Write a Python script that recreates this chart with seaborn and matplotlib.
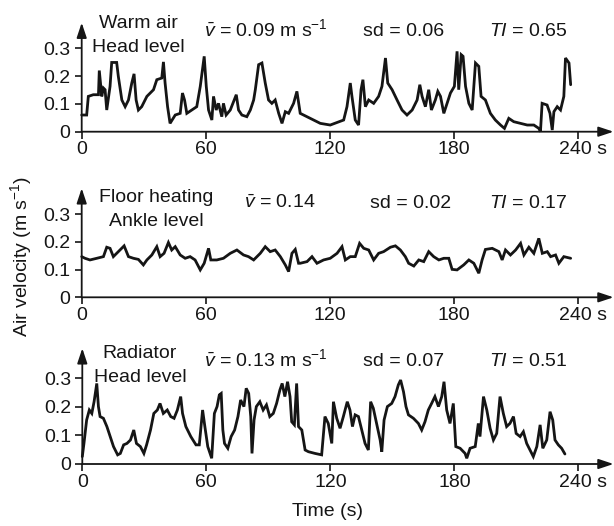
import numpy as np
import pandas as pd
import matplotlib
matplotlib.use("Agg")
import matplotlib.pyplot as plt
import matplotlib.transforms as mtransforms
import seaborn as sns

# ---------------- data ----------------
warm_t = [0, 2.4, 3.2, 5.6, 8.1, 8.5, 9.7, 10.5, 11.3, 12.1, 13.7, 14.5, 16.9, 17.7, 19.4, 21.0,
          22.6, 24.2, 25.3, 26.3, 27.4, 29.0, 31.5, 34.7, 36.3, 38.7, 39.5, 40.3, 41.5, 42.7, 45.2,
          47.6, 48.7, 49.7, 50.8, 53.2, 55.6, 57.3, 59.2, 60.2, 61.3, 62.9, 63.7, 65.0, 66.1, 67.7,
          68.5, 69.8, 71.8, 73.4, 74.7, 75.8, 77.4, 79.8, 81.5, 83.1, 83.9, 85.5, 87.1, 88.7, 90.3,
          91.9, 93.5, 95.2, 96.8, 98.4, 100.0, 102.4, 104.0,
          105.6, 110.5, 115.3, 120.1, 123.4, 126.6, 128.2, 129.8, 130.6, 132.2, 133.8, 135.0, 135.9,
          137.1, 138.7, 141.1, 143.5, 145.1, 146.8, 147.9, 150.0, 152.4, 154.8, 157.2, 159.7, 162.1,
          163.4, 164.5, 166.1, 167.7, 169.0, 170.9, 172.1, 173.4, 175.0, 176.6, 178.2, 180.1, 181.4,
          182.2, 183.4, 184.3, 185.5, 187.1, 188.7, 190.3, 191.9, 193.0, 195.1, 197.5, 199.9, 202.4,
          204.3, 206.4, 208.8, 212.0, 215.3, 218.5, 220.9, 221.7, 222.5, 224.9, 226.3, 227.4, 228.2,
          229.8, 231.4, 233.0, 233.8, 235.5, 236.3]
warm_v = [0.060, 0.060, 0.127, 0.133, 0.133, 0.220, 0.127, 0.157, 0.151, 0.078, 0.163, 0.249, 0.249,
          0.199, 0.114, 0.090, 0.114, 0.175, 0.208, 0.114, 0.078, 0.090, 0.127, 0.151, 0.187, 0.193,
          0.251, 0.175, 0.090, 0.030, 0.060, 0.066, 0.139, 0.114, 0.066, 0.078, 0.090, 0.163, 0.271,
          0.163, 0.078, 0.042, 0.127, 0.078, 0.102, 0.054, 0.102, 0.060, 0.078, 0.108, 0.133, 0.078,
          0.060, 0.054, 0.078, 0.114, 0.151, 0.241, 0.247, 0.175, 0.114, 0.102, 0.114, 0.066, 0.030,
          0.072, 0.066, 0.102, 0.145,
          0.066, 0.048, 0.030, 0.024, 0.033, 0.042, 0.090, 0.175, 0.127, 0.042, 0.024, 0.151, 0.187,
          0.090, 0.114, 0.102, 0.127, 0.163, 0.265, 0.175, 0.151, 0.114, 0.078, 0.060, 0.078, 0.114,
          0.169, 0.127, 0.090, 0.151, 0.078, 0.114, 0.145, 0.127, 0.066, 0.102, 0.139, 0.163, 0.289,
          0.151, 0.277, 0.271, 0.163, 0.102, 0.078, 0.247, 0.235, 0.127, 0.114, 0.066, 0.042, 0.024,
          0.012, 0.048, 0.036, 0.030, 0.024, 0.024, 0.012, 0.000, 0.102, 0.096, 0.066, 0.006, 0.072,
          0.090, 0.078, 0.127, 0.265, 0.247, 0.169]

floor_t = [0, 1.6, 4.0, 7.3, 10.5, 12.1, 13.7, 15.3, 17.7, 20.5, 22.6, 25.0, 27.4, 29.8, 31.5, 33.9,
           36.3, 37.9, 39.8, 41.9, 43.5, 45.2, 47.6, 50.0, 52.4, 54.8, 57.3, 59.2, 61.3, 62.4, 65.3,
           68.5, 71.8, 75.0, 78.2, 80.6, 83.1, 86.3, 88.7, 91.1, 93.5, 96.0, 98.4, 100.0, 101.6, 103.2,
           104.8,
           105.6, 108.9, 111.3, 113.7, 116.9, 120.1, 123.4, 125.8, 127.4, 129.8, 132.2, 134.3, 136.3,
           138.7, 141.1, 143.5, 145.9, 149.2, 151.6, 154.0, 156.4, 158.0, 160.5, 162.9, 165.3, 167.7,
           170.1, 172.6, 175.0, 177.4, 179.0, 181.4, 184.6, 187.1, 189.5, 191.9, 193.5, 195.1, 198.4,
           201.6, 203.2, 204.8, 207.2, 209.7, 212.1, 213.7, 216.1, 218.5, 220.9, 222.6, 225.0, 226.6,
           229.0, 230.6, 233.0, 236.3]
floor_v = [0.147, 0.141, 0.135, 0.141, 0.147, 0.181, 0.177, 0.147, 0.165, 0.186, 0.147, 0.141, 0.137,
           0.117, 0.135, 0.153, 0.183, 0.147, 0.159, 0.198, 0.171, 0.183, 0.153, 0.141, 0.147, 0.135,
           0.099, 0.123, 0.177, 0.135, 0.135, 0.141, 0.159, 0.171, 0.153, 0.147, 0.135, 0.159, 0.183,
           0.165, 0.171, 0.147, 0.117, 0.093, 0.159, 0.173, 0.123,
           0.123, 0.129, 0.147, 0.123, 0.135, 0.141, 0.159, 0.183, 0.135, 0.147, 0.147, 0.195, 0.177,
           0.171, 0.135, 0.159, 0.165, 0.181, 0.186, 0.171, 0.147, 0.123, 0.113, 0.135, 0.129, 0.165,
           0.147, 0.135, 0.141, 0.141, 0.101, 0.099, 0.117, 0.135, 0.123, 0.087, 0.135, 0.173, 0.177,
           0.165, 0.135, 0.171, 0.153, 0.171, 0.195, 0.153, 0.181, 0.159, 0.213, 0.159, 0.165, 0.147,
           0.153, 0.123, 0.147, 0.141]

rad_t = [0, 0.8, 2.1, 3.4, 4.6, 5.7, 7.0, 7.8, 8.6, 10.2, 11.9, 13.5, 15.1, 17.1, 18.4, 20.0, 21.6,
         23.3, 24.9, 26.2, 28.1, 29.8, 31.1, 33.0, 34.6, 36.3, 37.6, 39.2, 41.1, 42.8, 44.4, 46.0,
         47.6, 48.5, 50.1, 52.5, 55.0, 56.6, 58.2, 59.3, 60.7, 62.6, 63.9, 65.2, 66.3, 67.2, 68.0,
         68.8, 70.4, 72.0, 73.7, 75.3, 76.6, 78.2, 79.3, 80.5, 81.5, 82.1, 83.1, 84.2, 85.9, 87.5,
         89.1, 90.7, 92.4, 94.0, 95.6, 96.7, 98.0, 99.3, 100.5, 101.3, 102.6, 103.7, 104.6, 106.2,
         107.8, 109.4, 112.6, 115.8, 117.4, 119.0, 120.7, 121.5, 123.1, 124.7, 126.3, 128.2, 129.5,
         130.7, 132.0, 133.6, 135.2, 136.8, 138.4, 139.5, 140.8, 142.4, 144.1, 144.9, 146.0, 147.6,
         149.7, 151.3, 152.9, 154.0, 155.4, 156.6, 157.8, 160.2, 162.6, 164.2, 165.8, 167.4, 169.0,
         170.6, 172.3, 173.9, 175.0, 176.3, 177.9, 179.5, 180.7, 182.8, 185.2, 186.0, 187.6, 190.1,
         191.6, 192.4, 194.1, 195.7, 197.3, 198.9, 200.5, 202.1, 203.7, 205.3, 206.9, 208.6, 209.9,
         211.8, 213.4, 215.0, 216.6, 218.2, 219.9, 221.5, 222.8, 224.7, 226.3, 227.6, 228.7, 230.3,
         231.9, 233.5]
rad_v = [0.026, 0.072, 0.154, 0.189, 0.177, 0.218, 0.282, 0.201, 0.166, 0.160, 0.131, 0.096, 0.061,
         0.032, 0.037, 0.067, 0.072, 0.084, 0.119, 0.072, 0.061, 0.037, 0.067, 0.119, 0.177, 0.189,
         0.212, 0.177, 0.189, 0.166, 0.160, 0.189, 0.236, 0.177, 0.131, 0.096, 0.067, 0.067, 0.189,
         0.131, 0.061, 0.020, 0.177, 0.201, 0.242, 0.247, 0.119, 0.072, 0.055, 0.096, 0.119, 0.166,
         0.224, 0.201, 0.265, 0.247, 0.166, 0.037, 0.154, 0.201, 0.218, 0.189, 0.207, 0.166, 0.177,
         0.212, 0.259, 0.282, 0.236, 0.288, 0.236, 0.148, 0.137, 0.282, 0.131, 0.119, 0.049, 0.043,
         0.037, 0.032, 0.166, 0.142, 0.072, 0.218, 0.160, 0.125, 0.166, 0.218, 0.189, 0.131, 0.172,
         0.166, 0.119, 0.072, 0.049, 0.218, 0.195, 0.142, 0.084, 0.043, 0.154, 0.201, 0.212, 0.236,
         0.277, 0.294, 0.253, 0.201, 0.172, 0.160, 0.142, 0.119, 0.148, 0.189, 0.212, 0.236, 0.201,
         0.236, 0.288, 0.189, 0.142, 0.212, 0.061, 0.055, 0.037, 0.020, 0.055, 0.061, 0.142, 0.096,
         0.236, 0.189, 0.125, 0.084, 0.107, 0.236, 0.177, 0.131, 0.142, 0.166, 0.107, 0.096, 0.113,
         0.072, 0.049, 0.026, 0.061, 0.137, 0.055, 0.084, 0.183, 0.154, 0.084, 0.067, 0.055, 0.035]

panel_titles = [("Warm air", "Head level"), ("Floor heating", "Ankle level"), ("Radiator", "Head level")]
mean_labels = [r"$\bar{v}$ = 0.09 m s$^{-1}$", r"$\bar{v}$ = 0.14", r"$\bar{v}$ = 0.13 m s$^{-1}$"]
sd_labels = ["sd = 0.06", "sd = 0.02", "sd = 0.07"]
ti_labels = [r"$TI$ = 0.65", r"$TI$ = 0.17", r"$TI$ = 0.51"]
x_ticks = [0, 60, 120, 180, 240]
x_ticklabels = ["0", "60", "120", "180", "240 s"]
y_ticks = [0, 0.1, 0.2, 0.3]
y_ticklabels = ["0", "0.1", "0.2", "0.3"]

series = [(warm_t, warm_v), (floor_t, floor_v), (rad_t, rad_v)]

# ---------------- style ----------------
sns.set_style("ticks")
plt.rcParams["font.family"] = ["Liberation Sans", "DejaVu Sans"]
plt.rcParams["mathtext.fontset"] = "custom"
plt.rcParams["mathtext.rm"] = "Liberation Sans"
plt.rcParams["mathtext.it"] = "Liberation Sans:italic"
plt.rcParams["mathtext.bf"] = "Liberation Sans:bold"

W, H = 614, 526
FS = 14
INK = "#151515"
fig = plt.figure(figsize=(W / 100, H / 100), dpi=100)

def fx(x):
    return x / W

def fy(y):
    return 1 - y / H

# (left_px_of_x0, zero_px, top_px, ymax)
layout = [(81.7, 131.7, 22.7, 0.392), (81.7, 297.3, 188.3, 0.394), (82.3, 464.0, 348.3, 0.405)]
XMAX = 257

text_rows = [
    # (title1 baseline, title2 baseline, title center x, mean x, stats baseline, sd center, ti center)
    (28.3, 51.5, 138, 204, 36.5, 404, 528),
    (202.0, 225.5, 156, 244, 208.5, 411, 528),
    (358.0, 382.0, 140, 204, 366.0, 404, 528),
]

for i, (t, v) in enumerate(series):
    left_px, zero_px, top_px, ymax = layout[i]
    ax = fig.add_axes([fx(left_px), fy(zero_px), fx(613.5 - left_px), (zero_px - top_px) / H])
    df = pd.DataFrame({"t": t, "v": v})
    sns.lineplot(data=df, x="t", y="v", ax=ax, color=INK, linewidth=2.0,
                 estimator=None, sort=False)
    for ln in ax.lines:
        ln.set_clip_on(False)
        ln.set_solid_joinstyle("miter")
    ax.set_xlim(0, XMAX)
    ax.set_ylim(0, ymax)
    for s in ax.spines.values():
        s.set_visible(False)
    ax.set_xticks(x_ticks)
    ax.set_xticklabels(x_ticklabels)
    ax.set_yticks(y_ticks)
    ax.set_yticklabels(y_ticklabels)
    ax.tick_params(axis="both", direction="out", length=5, width=1.2, color=INK,
                   labelsize=FS, labelcolor=INK)
    ax.tick_params(axis="y", pad=3)
    ax.tick_params(axis="x", pad=2)
    ax.set_xlabel("")
    ax.set_ylabel("")
    # shift "240 s" label slightly right so the number sits on its tick
    lab = ax.get_xticklabels()[-1]
    lab.set_transform(lab.get_transform() + mtransforms.ScaledTranslation(0.05, 0, fig.dpi_scale_trans))
    # axis lines with arrow heads
    arrow = dict(arrowstyle="-|>,head_length=0.9,head_width=0.3", lw=1.3, color=INK,
                 mutation_scale=10, shrinkA=0, shrinkB=0)
    ax.annotate("", xy=(1, 0), xytext=(0, 0), xycoords="axes fraction", arrowprops=arrow,
                annotation_clip=False)
    ax.annotate("", xy=(0, 1), xytext=(0, 0), xycoords="axes fraction", arrowprops=arrow,
                annotation_clip=False)

    t1, t2, tcx, mx, sb, sdx, tix = text_rows[i]
    fig.text(fx(tcx), fy(t1), panel_titles[i][0], ha="center", va="baseline", fontsize=FS, color=INK)
    fig.text(fx(tcx), fy(t2), panel_titles[i][1], ha="center", va="baseline", fontsize=FS, color=INK)
    fig.text(fx(mx), fy(sb), mean_labels[i], ha="left", va="baseline", fontsize=FS, color=INK)
    fig.text(fx(sdx), fy(sb), sd_labels[i], ha="center", va="baseline", fontsize=FS, color=INK)
    fig.text(fx(tix), fy(sb), ti_labels[i], ha="center", va="baseline", fontsize=FS, color=INK)

fig.text(fx(21), fy(256.5), r"Air velocity (m s$^{-1}$)", rotation=90, ha="center", va="center",
         fontsize=FS, color=INK)
fig.text(fx(328), fy(512), "Time (s)", ha="center", va="center", fontsize=FS, color=INK)

fig.savefig("out.png", dpi=100)
